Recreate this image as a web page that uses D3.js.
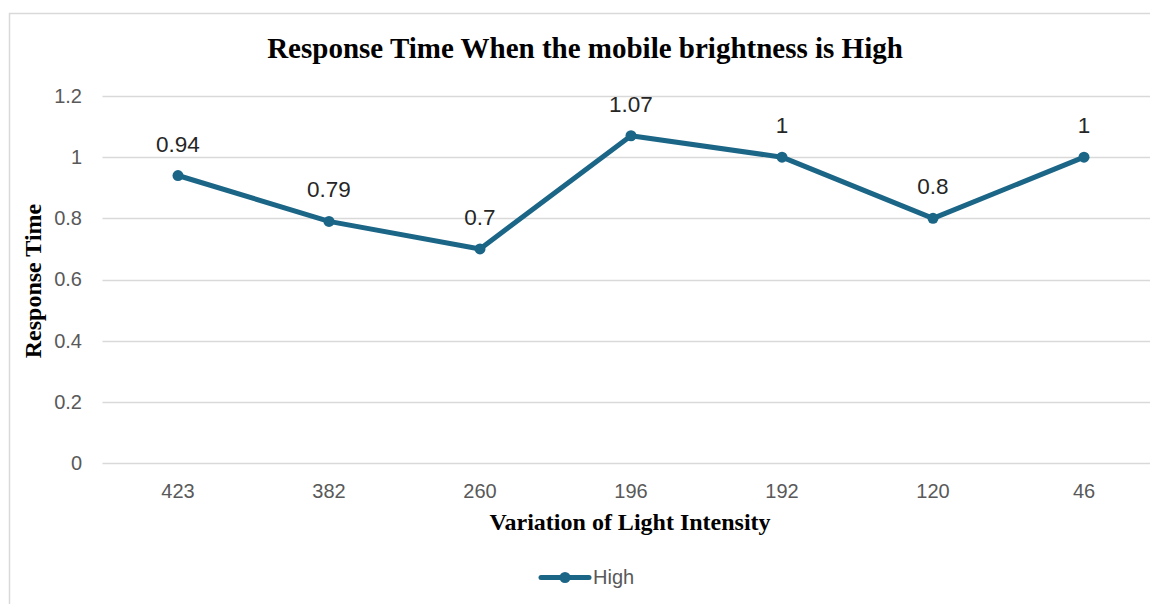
<!DOCTYPE html>
<html>
<head>
<meta charset="utf-8">
<script src="https://cdn.jsdelivr.net/npm/d3@7"></script>
<style>
  html, body { margin: 0; padding: 0; background: #fff; }
  svg { display: block; }
</style>
</head>
<body>
<svg id="chart" width="1150" height="604"></svg>
<script>
const categories = ["423", "382", "260", "196", "192", "120", "46"];
const highValues = [0.94, 0.79, 0.7, 1.07, 1, 0.8, 1];
const yTicks = [0, 0.2, 0.4, 0.6, 0.8, 1, 1.2];
const seriesName = "High";

const svg = d3.select("#chart");
const W = 1150, H = 604;
const margin = { left: 102.5, right: -9.5, top: 96, bottom: 141 };
const lineColor = "#1b6587";
const sans = "Liberation Sans, Arial, sans-serif";
const serif = "Liberation Serif, Times New Roman, serif";

// chart frame
svg.append("rect")
  .attr("x", 9.5).attr("y", 13.5)
  .attr("width", 1160).attr("height", 620)
  .attr("fill", "#fff").attr("stroke", "#d9d9d9").attr("stroke-width", 1.5);

const x = d3.scaleBand()
  .domain(categories)
  .range([margin.left, W - margin.right]);

const y = d3.scaleLinear()
  .domain([0, 1.2])
  .range([H - margin.bottom, margin.top]);

// gridlines
svg.append("g")
  .selectAll("line")
  .data(yTicks)
  .join("line")
  .attr("x1", margin.left).attr("x2", W - margin.right)
  .attr("y1", d => Math.round(y(d)) + 0.5).attr("y2", d => Math.round(y(d)) + 0.5)
  .attr("stroke", "#d9d9d9").attr("stroke-width", 1.5);

// y axis labels
const yAxis = d3.axisLeft(y).tickValues(yTicks).tickSize(0).tickPadding(0)
  .tickFormat(d => d3.format("~g")(d));
const gy = svg.append("g").attr("transform", `translate(${82},0)`).call(yAxis);
gy.select(".domain").remove();
gy.selectAll("text")
  .attr("fill", "#595959")
  .style("font-family", sans)
  .style("font-size", "20px");

// x axis labels
const xAxis = d3.axisBottom(x).tickSize(0).tickPadding(0);
const gx = svg.append("g").attr("transform", `translate(0,${484})`).call(xAxis);
gx.select(".domain").remove();
gx.selectAll("text")
  .attr("fill", "#595959")
  .style("font-family", sans)
  .style("font-size", "20px");

const cx = (d, i) => x(categories[i]) + x.bandwidth() / 2;

// series line
const line = d3.line()
  .x((d, i) => cx(d, i))
  .y(d => y(d));

svg.append("path")
  .datum(highValues)
  .attr("d", line)
  .attr("fill", "none")
  .attr("stroke", lineColor)
  .attr("stroke-width", 5)
  .attr("stroke-linejoin", "round")
  .attr("stroke-linecap", "round");

svg.append("g")
  .selectAll("circle")
  .data(highValues)
  .join("circle")
  .attr("cx", (d, i) => cx(d, i))
  .attr("cy", d => y(d))
  .attr("r", 5.5)
  .attr("fill", lineColor);

// value labels
svg.append("g")
  .selectAll("text")
  .data(highValues)
  .join("text")
  .attr("x", (d, i) => cx(d, i))
  .attr("y", d => y(d) - 24)
  .attr("text-anchor", "middle")
  .attr("fill", "#262626")
  .style("font-family", sans)
  .style("font-size", "22.5px")
  .text(d => d);

// title
svg.append("text")
  .attr("x", 585).attr("y", 58)
  .attr("text-anchor", "middle")
  .style("font-family", serif)
  .style("font-weight", "bold")
  .style("font-size", "29px")
  .attr("fill", "#000")
  .text("Response Time When the mobile brightness is High");

// axis titles
svg.append("text")
  .attr("x", 630).attr("y", 530)
  .attr("text-anchor", "middle")
  .style("font-family", serif)
  .style("font-weight", "bold")
  .style("font-size", "24px")
  .attr("fill", "#000")
  .text("Variation of Light Intensity");

svg.append("text")
  .attr("transform", `translate(41,281) rotate(-90)`)
  .attr("text-anchor", "middle")
  .style("font-family", serif)
  .style("font-weight", "bold")
  .style("font-size", "24px")
  .attr("fill", "#000")
  .text("Response Time");

// legend
const lg = svg.append("g");
lg.append("line")
  .attr("x1", 541).attr("x2", 589)
  .attr("y1", 577.5).attr("y2", 577.5)
  .attr("stroke", lineColor).attr("stroke-width", 5)
  .attr("stroke-linecap", "round");
lg.append("circle")
  .attr("cx", 565).attr("cy", 577.5).attr("r", 5.5)
  .attr("fill", lineColor);
lg.append("text")
  .attr("x", 593).attr("y", 584)
  .attr("fill", "#595959")
  .style("font-family", sans)
  .style("font-size", "20px")
  .text(seriesName);
</script>
</body>
</html>
